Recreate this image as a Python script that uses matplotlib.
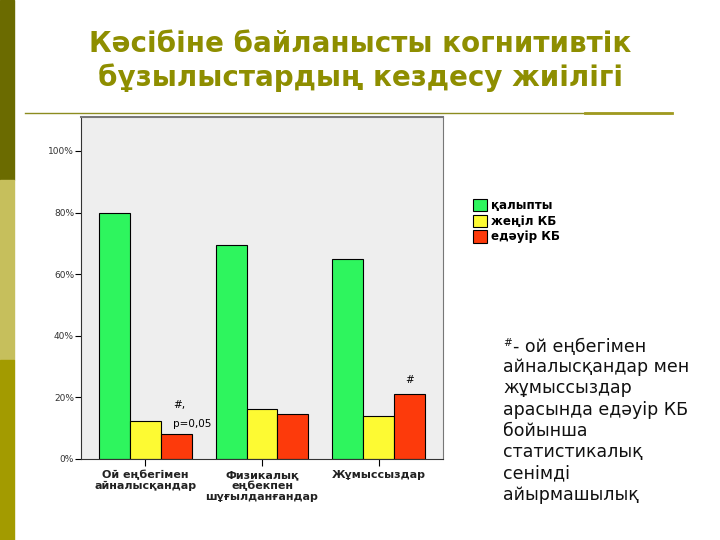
import matplotlib
matplotlib.use('Agg')
import matplotlib.pyplot as plt
import numpy as np
from matplotlib.patches import Rectangle
from matplotlib.lines import Line2D

# data (percent)
groups = ['Ой еңбегімен\nайналысқандар', 'Физикалық\nеңбекпен\nшұғылданғандар', 'Жұмыссыздар']
series_names = ['қалыпты', 'жеңіл КБ', 'едәуір КБ']
normal = [79.8, 69.3, 65.0]
mild = [12.4, 16.3, 14.0]
severe = [8.1, 14.6, 21.1]
yticks = [0, 20, 40, 60, 80, 100]
colors = ['#2ef55e', '#fdfa33', '#fd3a0b']

title = 'Кәсібіне байланысты когнитивтік\nбұзылыстардың кездесу жиілігі'
note_first = '- ой еңбегімен'
note_rest = ('айналысқандар мен\nжұмыссыздар\n'
             'арасында едәуір КБ\nбойынша\nстатистикалық\nсенімді\nайырмашылық')

fig = plt.figure(figsize=(7.2, 5.4), dpi=100)
fig.patch.set_facecolor('white')

# left decorative stripe
fig.patches.append(Rectangle((0, 1 - 180/540), 14/720, 180/540, transform=fig.transFigure,
                             color='#6b6b00', zorder=0))
fig.patches.append(Rectangle((0, 1 - 360/540), 14/720, 180/540, transform=fig.transFigure,
                             color='#c6bf5c', zorder=0))
fig.patches.append(Rectangle((0, 0), 14/720, 180/540, transform=fig.transFigure,
                             color='#a39b00', zorder=0))

# separator line under title
fig.add_artist(Line2D([25/720, 670/720], [1 - 113/540] * 2, transform=fig.transFigure,
                      color='#8c8c20', lw=1))
fig.add_artist(Line2D([585/720, 672/720], [1 - 113/540] * 2, transform=fig.transFigure,
                      color='#a09a20', lw=2))

fig.text(0.5, 1 - 61/540, title, ha='center', va='center', fontsize=20,
         fontweight='bold', color='#8e8e00', linespacing=1.2)

ax = fig.add_axes([81/720, 81/540, 362/720, 342/540])
ax.set_facecolor('#eeeeee')
x = np.arange(len(groups))
w = 0.265
ax.bar(x - w, normal, w, color=colors[0], edgecolor='black', lw=0.8, label=series_names[0])
ax.bar(x, mild, w, color=colors[1], edgecolor='black', lw=0.8, label=series_names[1])
ax.bar(x + w, severe, w, color=colors[2], edgecolor='black', lw=0.8, label=series_names[2])

ax.set_xlim(-0.55, 2.55)
ax.set_ylim(0, 111)
ax.set_yticks(yticks)
ax.set_yticklabels([f'{v}%' for v in yticks], fontsize=6.5, color='#333333')
ax.set_xticks(x)
ax.set_xticklabels(groups, fontsize=8, fontweight='bold', color='#222222', linespacing=1.1)
ax.tick_params(axis='y', length=4, width=0.8, pad=1)
ax.tick_params(axis='x', length=5, width=0.8, pad=3)
for s in ['left', 'bottom']:
    ax.spines[s].set_color('#333333')
for s in ['top', 'right']:
    ax.spines[s].set_color('#777777')
ax.spines['top'].set_linewidth(1.5)

ax.text(x[0] + 0.24, 17.5, '#,', fontsize=7.5, ha='left', va='center')
ax.text(x[0] + 0.24, 11.5, 'p=0,05', fontsize=7.5, ha='left', va='center')
ax.text(x[2] + w, severe[2] + 4.5, '#', fontsize=7.5, ha='center', va='center')

fig.legend(loc='upper left', bbox_to_anchor=(462/720, 1 - 188/540), frameon=False,
           handlelength=1.2, handleheight=1.2, handletextpad=0.3,
           labelspacing=0.22, prop={'weight': 'bold', 'size': 8.6})

# footnote on the right
fig.text(503/720, 1 - 338/540, '#', ha='left', va='top', fontsize=7.5, color='#111111')
fig.text(513/720, 1 - 347/540, note_first, ha='left', va='center', fontsize=12.5,
         color='#111111')
fig.text(503/720, 1 - 358/540, note_rest, ha='left', va='top', fontsize=12.5,
         color='#111111', linespacing=1.24)

fig.savefig('out.png', dpi=100)
